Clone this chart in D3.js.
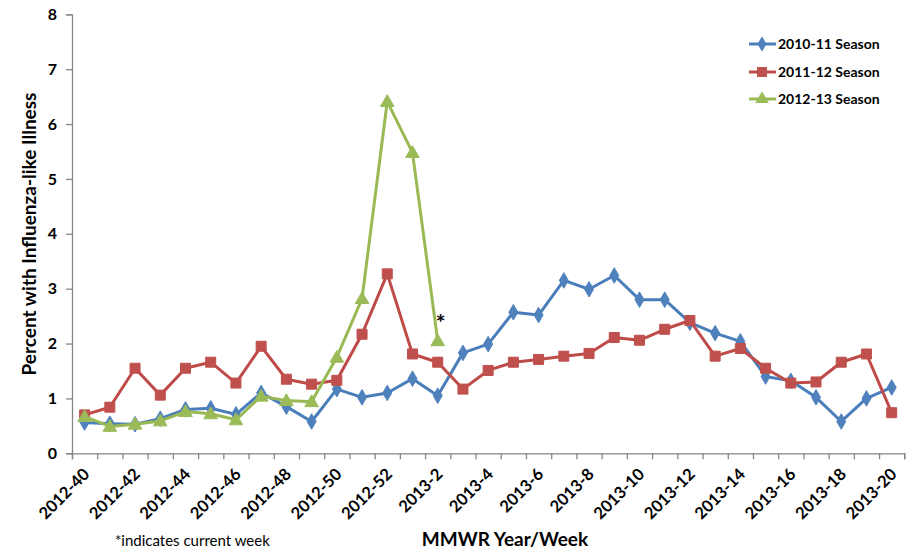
<!DOCTYPE html>
<html><head><meta charset="utf-8">
<script src="https://cdn.jsdelivr.net/npm/d3@7"></script>
<style>
html,body{margin:0;padding:0;background:#fff;}
svg{display:block;font-family:Lato,"Open Sans",sans-serif;}
</style></head>
<body><svg id="c" width="920" height="560"></svg>
<script>
const weeks = ["2012-40","2012-41","2012-42","2012-43","2012-44","2012-45","2012-46","2012-47","2012-48","2012-49","2012-50","2012-51","2012-52","2013-1","2013-2","2013-3","2013-4","2013-5","2013-6","2013-7","2013-8","2013-9","2013-10","2013-11","2013-12","2013-13","2013-14","2013-15","2013-16","2013-17","2013-18","2013-19","2013-20"];
const xTickLabels = ["2012-40","2012-42","2012-44","2012-46","2012-48","2012-50","2012-52","2013-2","2013-4","2013-6","2013-8","2013-10","2013-12","2013-14","2013-16","2013-18","2013-20"];
const yTicks = [0,1,2,3,4,5,6,7,8];
const season1011 = [0.56,0.54,0.53,0.63,0.80,0.82,0.71,1.10,0.85,0.58,1.17,1.02,1.10,1.36,1.05,1.83,1.99,2.57,2.52,3.15,2.99,3.24,2.80,2.80,2.38,2.19,2.04,1.40,1.32,1.02,0.58,1.00,1.20];
const season1112 = [0.70,0.84,1.55,1.06,1.55,1.66,1.28,1.95,1.35,1.26,1.33,2.17,3.27,1.81,1.66,1.17,1.51,1.66,1.71,1.77,1.82,2.11,2.06,2.26,2.42,1.77,1.91,1.55,1.28,1.30,1.66,1.81,0.74];
const season1213 = [0.67,0.49,0.53,0.59,0.76,0.72,0.61,1.04,0.96,0.94,1.75,2.82,6.41,5.48,2.05];
const seriesNames = ["2010-11 Season","2011-12 Season","2012-13 Season"];
const seriesColors = ["#4A7EBB","#BE4B48","#98B954"];
const markerColors = ["#4F81BD","#C0504D","#9BBB59"];
const seriesShapes = [d3.symbolDiamond, d3.symbolSquare, d3.symbolTriangle];
const seriesData = [season1011, season1112, season1213];

const svg = d3.select("#c");
const mLeft = 72, mRight = 904.3, mTop = 14.3, mBottom = 453.3;
const x = d3.scaleBand().domain(weeks).range([mLeft, mRight]).padding(0);
const xIdx = d3.scaleLinear().domain([0, weeks.length]).range([mLeft, mRight]);
const y = d3.scaleLinear().domain([0, 8]).range([mBottom, mTop]);
const cx = w => x(w) + x.bandwidth() / 2;
const axisColor = "#868686";
const F = "Lato";

// y axis
const ya = svg.append("g").attr("transform", `translate(${mLeft},0)`)
  .call(d3.axisLeft(y).tickValues(yTicks).tickSize(6).tickPadding(9).tickFormat(d3.format("d")));
ya.select(".domain").attr("stroke", axisColor).attr("stroke-width", 1.3);
ya.selectAll(".tick line").attr("stroke", axisColor).attr("stroke-width", 1.3);
ya.selectAll(".tick text").attr("fill", "#000").style("font-family", F).style("font-weight", "bold").style("font-size", "16px");

// x axis (tick marks at category boundaries)
const xa = svg.append("g").attr("transform", `translate(0,${mBottom})`)
  .call(d3.axisBottom(xIdx).tickValues(d3.range(weeks.length + 1)).tickSize(6).tickFormat(""));
xa.select(".domain").attr("stroke", axisColor).attr("stroke-width", 1.3);
xa.selectAll(".tick line").attr("stroke", axisColor).attr("stroke-width", 1.3);

svg.append("g").selectAll("text").data(xTickLabels).join("text")
  .attr("transform", d => `translate(${cx(d) + 6},${mBottom + 22}) rotate(-45)`)
  .attr("text-anchor", "end")
  .style("font-family", F).style("font-weight", "bold").style("font-size", "16.5px")
  .attr("fill", "#000")
  .text(d => d);

// lines
const line = d3.line().x((d, i) => cx(weeks[i])).y(d => y(d));
seriesData.forEach((data, s) => {
  const g = svg.append("g");
  g.append("path").datum(data).attr("d", line).attr("fill", "none")
    .attr("stroke", seriesColors[s]).attr("stroke-width", 3).attr("stroke-linejoin", "round");
  const sz = s === 0 ? 70 : (s === 1 ? 100 : 80);
  g.selectAll("path.m").data(data).join("path").attr("class", "m")
    .attr("transform", (d, i) => `translate(${cx(weeks[i])},${y(d) + (s === 2 ? 1 : 0)})`)
    .attr("d", d3.symbol().type(seriesShapes[s]).size(sz))
    .attr("fill", markerColors[s]).attr("stroke", markerColors[s]).attr("stroke-width", 1);
});

// current-week asterisk
const lastI = season1213.length - 1;
svg.append("text").attr("x", cx(weeks[lastI]) + 3).attr("y", y(season1213[lastI]) - 10)
  .attr("text-anchor", "middle")
  .style("font-family", F).style("font-weight", "bold").style("font-size", "23px").text("*");

// legend
const lg = svg.append("g");
seriesNames.forEach((n, s) => {
  const ly = [44, 72, 99][s];
  lg.append("line").attr("x1", 749).attr("x2", 776).attr("y1", ly).attr("y2", ly)
    .attr("stroke", seriesColors[s]).attr("stroke-width", 3);
  const sz = s === 0 ? 70 : (s === 1 ? 100 : 80);
  lg.append("path").attr("transform", `translate(762,${ly})`)
    .attr("d", d3.symbol().type(seriesShapes[s]).size(sz)).attr("fill", markerColors[s]);
  lg.append("text").attr("x", 778).attr("y", ly + 5)
    .style("font-family", F).style("font-weight", "bold").style("font-size", "14px").text(n);
});

// titles
svg.append("text").attr("transform", "translate(36,234) rotate(-90)").attr("text-anchor", "middle")
  .style("font-family", F).style("font-weight", "bold").style("font-size", "19px")
  .text("Percent with Influenza-like Illness");
svg.append("text").attr("x", 505).attr("y", 546).attr("text-anchor", "middle")
  .style("font-family", F).style("font-weight", "bold").style("font-size", "19px")
  .text("MMWR Year/Week");
svg.append("text").attr("x", 115).attr("y", 546)
  .style("font-family", F).style("font-size", "15px")
  .text("*indicates current week");
</script></body></html>
